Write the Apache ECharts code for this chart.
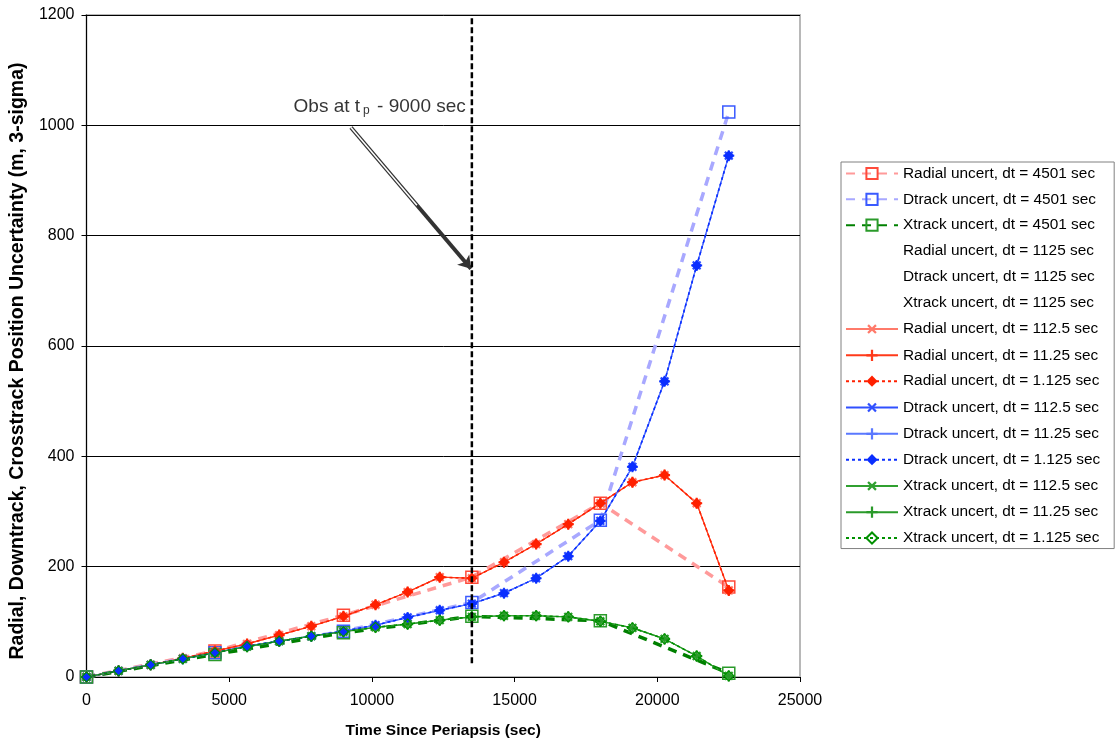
<!DOCTYPE html>
<html>
<head>
<meta charset="utf-8">
<script src="https://cdn.jsdelivr.net/npm/echarts@6/dist/echarts.min.js"></script>
<style>
html,body{margin:0;padding:0;background:#fff;}
#c{width:1116px;height:744px;}
</style>
</head>
<body>
<div id="c"></div>
<script>
// ---- Data ----
const tSparse = [0, 4501, 9002, 13503, 18004, 22505];
const radial4501 = [0, 47, 112, 181, 315, 163];
const dtrack4501 = [0, 44, 83, 135, 284, 1024];
const xtrack4501 = [0, 41, 80, 110, 102, 7];

const tFine = [0, 1125, 2250, 3376, 4501, 5626, 6751, 7877, 9002, 10127, 11252,
               12378, 13503, 14628, 15754, 16879, 18004, 19129, 20255, 21380, 22505];
const radialFine = [0, 11, 22, 34, 47, 60, 76, 92, 110, 131, 154, 181, 179, 208, 241, 277, 315, 353, 366, 315, 157];
const dtrackFine = [0, 11, 22, 33, 44, 56, 65, 74, 83, 94, 108, 121, 133, 152, 179, 219, 283, 381, 536, 746, 945];
const xtrackFine = [0, 11, 22, 33, 44, 55, 65, 74, 82, 90, 96, 103, 109, 111, 111, 109, 101, 89, 69, 38, 2];

const obsTime = 13503;
const obsLine = [25, 1195];
const annotText = 'Obs at t';
const annotSub = 'p';
const annotText2 = ' - 9000 sec';
const arrowFrom = [9266, 996];
const arrowTo = [13470, 740];
const textAnchor = [13290, 1037];

const xTicks = {min: 0, max: 25000, interval: 5000};
const yTicks = {min: 0, max: 1200, interval: 200};

const names = [
  'Radial uncert, dt = 4501 sec',
  'Dtrack uncert, dt = 4501 sec',
  'Xtrack uncert, dt = 4501 sec',
  'Radial uncert, dt = 1125 sec',
  'Dtrack uncert, dt = 1125 sec',
  'Xtrack uncert, dt = 1125 sec',
  'Radial uncert, dt = 112.5 sec',
  'Radial uncert, dt = 11.25 sec',
  'Radial uncert, dt = 1.125 sec',
  'Dtrack uncert, dt = 112.5 sec',
  'Dtrack uncert, dt = 11.25 sec',
  'Dtrack uncert, dt = 1.125 sec',
  'Xtrack uncert, dt = 112.5 sec',
  'Xtrack uncert, dt = 11.25 sec',
  'Xtrack uncert, dt = 1.125 sec'
];

// ---- Helpers ----
const pair = (t, v) => t.map((x, i) => [x, v[i]]);
const FONT = '"Liberation Sans", Arial, sans-serif';
const PLUS = 'path://M4,0H6V4H10V6H6V10H4V6H0V4H4Z';

function coarse(name, vals, lineColor, markColor) {
  return {
    name, type: 'line', data: pair(tSparse, vals), z: 2,
    symbol: 'rect', symbolSize: 12,
    lineStyle: {color: lineColor, width: 3.5, type: [9, 7]},
    itemStyle: {color: 'rgba(255,255,255,0)', borderColor: markColor, borderWidth: 1.5}
  };
}
function fine(name, vals, color, kind) {
  const s = {name, type: 'line', data: pair(tFine, vals), z: 3,
    lineStyle: {color, width: 1.2, type: 'solid'},
    itemStyle: {color, borderColor: color, borderWidth: 0}};
  if (kind === 'x') { s.symbol = PLUS; s.symbolSize = 11; s.symbolRotate = 45; }
  else if (kind === 'plus') { s.symbol = PLUS; s.symbolSize = 11; }
  else if (kind === 'diamond') {
    s.symbol = 'diamond'; s.symbolSize = 11; s.z = 4;
    s.lineStyle = {color, width: 1.6, type: [3, 3]};
  } else if (kind === 'hdiamond') {
    s.symbol = 'diamond'; s.symbolSize = 10; s.z = 4;
    s.lineStyle = {color, width: 1.6, type: [3, 3]};
    s.itemStyle = {color: 'rgba(255,255,255,0)', borderColor: color, borderWidth: 1.2};
  }
  return s;
}
function empty(name) {
  return {name, type: 'line', data: [], symbol: 'none',
    lineStyle: {opacity: 0}, itemStyle: {opacity: 0}};
}

const series = [
  coarse(names[0], radial4501, '#ff9a9a', '#ff4a3a'),
  coarse(names[1], dtrack4501, '#a8a8ff', '#3a5aff'),
  coarse(names[2], xtrack4501, '#008000', '#2a9a2a'),
  empty(names[3]), empty(names[4]), empty(names[5]),
  fine(names[6], radialFine, '#ff7a6a', 'x'),
  fine(names[7], radialFine, '#ff3a1a', 'plus'),
  fine(names[8], radialFine, '#ff2000', 'diamond'),
  fine(names[9], dtrackFine, '#3050ff', 'x'),
  fine(names[10], dtrackFine, '#5a78ff', 'plus'),
  fine(names[11], dtrackFine, '#0a2eff', 'diamond'),
  fine(names[12], xtrackFine, '#30a030', 'x'),
  fine(names[13], xtrackFine, '#2a9a2a', 'plus'),
  fine(names[14], xtrackFine, '#009000', 'hdiamond'),
  {
    name: 'obs', type: 'line', data: [[obsTime, obsLine[0]], [obsTime, obsLine[1]]],
    symbol: 'none', silent: true, z: 5,
    lineStyle: {color: '#000', width: 2.5, type: [6, 3]}
  },
  {
    name: 'annot', type: 'scatter', data: [textAnchor], symbolSize: 0, silent: true, z: 6,
    label: {
      show: true, position: 'left', distance: 0,
      formatter: '{a|' + annotText + '}{s|' + annotSub + '}{a|' + annotText2 + '}',
      rich: {
        a: {fontFamily: FONT, fontSize: 19, color: '#000', lineHeight: 23, verticalAlign: 'bottom'},
        s: {fontFamily: FONT, fontSize: 12, color: '#000', lineHeight: 23, verticalAlign: 'bottom', padding: [0, 2, 0, 3]}
      }
    },
    markLine: {
      silent: true, animation: false,
      label: {show: false},
      data: [
        [{coord: arrowFrom, symbol: 'none', lineStyle: {color: '#333', width: 4, type: 'solid'}},
         {coord: arrowTo, symbol: 'arrow', symbolSize: 12}],
        [{coord: arrowFrom, symbol: 'none', lineStyle: {color: '#fff', width: 1.5, type: 'solid'}},
         {coord: [arrowFrom[0] + (arrowTo[0] - arrowFrom[0]) * 0.55, arrowFrom[1] + (arrowTo[1] - arrowFrom[1]) * 0.55], symbol: 'none'}]
      ]
    }
  }
];

const legendData = names.map((n, i) => (i >= 3 && i <= 5)
  ? {name: n, itemStyle: {opacity: 0}, lineStyle: {opacity: 0}}
  : {name: n});

const plain = v => String(v);

const chart = echarts.init(document.getElementById('c'), null, {renderer: 'canvas'});
chart.setOption({
  animation: false,
  backgroundColor: '#fff',
  grid: {left: 85, right: 316, top: 15, bottom: 65, show: true,
         borderColor: '#b8b8b8', borderWidth: 2, backgroundColor: 'transparent'},
  xAxis: {
    type: 'value', min: xTicks.min, max: xTicks.max, interval: xTicks.interval,
    name: 'Time Since Periapsis (sec)', nameLocation: 'middle', nameGap: 46,
    nameTextStyle: {fontFamily: FONT, fontSize: 15.5, fontWeight: 'bold', color: '#000'},
    axisLine: {show: true, onZero: false, lineStyle: {color: '#000', width: 1}},
    axisTick: {show: true, length: 5, lineStyle: {color: '#000'}},
    axisLabel: {fontFamily: FONT, fontSize: 16, color: '#000', margin: 16, formatter: plain},
    splitLine: {show: false}
  },
  yAxis: {
    type: 'value', min: yTicks.min, max: yTicks.max, interval: yTicks.interval,
    name: 'Radial, Downtrack, Crosstrack Position Uncertainty (m, 3-sigma)',
    nameLocation: 'middle', nameGap: 58,
    nameTextStyle: {fontFamily: FONT, fontSize: 19.5, fontWeight: 'bold', color: '#000', padding: [0, 30, 0, 0]},
    axisLine: {show: true, lineStyle: {color: '#000', width: 1}},
    axisTick: {show: true, length: 5, lineStyle: {color: '#000'}},
    axisLabel: {fontFamily: FONT, fontSize: 16, color: '#000', margin: 12, formatter: plain},
    splitLine: {show: true, lineStyle: {color: '#000', width: 1}}
  },
  legend: {
    orient: 'vertical', left: 841, top: 162,
    data: legendData,
    itemWidth: 52, itemHeight: 14, itemGap: 10.86,
    padding: [4, 14, 3, 4],
    borderColor: '#808080', borderWidth: 1, backgroundColor: '#fff',
    textStyle: {fontFamily: FONT, fontSize: 15.4, color: '#000'},
    selectedMode: false
  },
  series
});
</script>
</body>
</html>
